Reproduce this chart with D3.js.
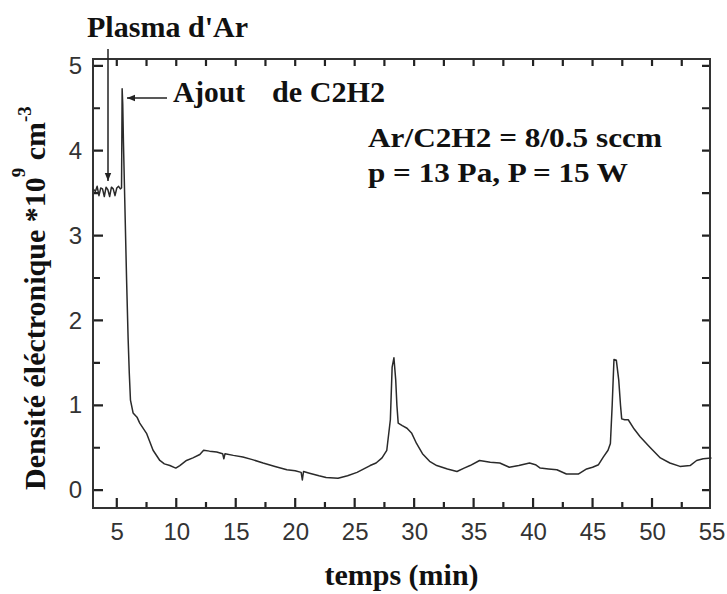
<!DOCTYPE html>
<html>
<head>
<meta charset="utf-8">
<script src="https://cdn.jsdelivr.net/npm/d3@7"></script>
<style>
  body { margin: 0; background: #fff; }
  svg { display: block; }
</style>
</head>
<body>
<div id="chart"></div>
<script>
var width = 727,
    height = 594;

// time in minutes
var time = [3.0, 3.2, 3.35, 3.5, 3.65, 3.8, 3.95, 4.1, 4.25, 4.4, 4.55, 4.7, 4.85, 5.0, 5.15, 5.3,
  5.4, 5.45, 5.5, 5.56, 5.67, 5.82, 5.95, 6.05, 6.15, 6.37, 6.7, 6.93, 7.5, 8.05, 8.62, 9.0, 9.46,
  9.96, 10.3, 10.86, 11.4, 11.98, 12.3, 12.8, 13.4, 13.9, 14.0, 14.1, 14.8, 15.6, 16.4, 17.3, 18.3,
  19.3, 20.0, 20.5, 20.6, 20.7, 21.2, 22.0, 22.6, 23.6, 24.4, 25.2, 26.3, 26.8, 27.3, 27.7, 28.0,
  28.15, 28.3, 28.45, 28.55, 28.66, 29.0, 29.4, 29.8, 30.2, 30.7, 31.3, 31.9, 32.8, 33.6, 34.2,
  34.7, 35.5, 36.4, 37.2, 38.0, 38.8, 39.7, 40.2, 40.6, 41.3, 42.0, 42.8, 43.8, 44.5, 45.0, 45.5,
  45.9, 46.3, 46.5, 46.65, 46.8, 47.0, 47.2, 47.35, 47.45, 47.7, 48.0, 48.5, 49.0, 49.8, 50.7,
  51.5, 52.35, 53.2, 53.75, 54.3, 55];

// electron density, 10^9 cm^-3
var density = [3.55, 3.52, 3.58, 3.47, 3.56, 3.55, 3.46, 3.57, 3.54, 3.46, 3.57, 3.55, 3.47, 3.56,
  3.58, 3.55, 3.56, 4.73, 4.55, 4.1, 3.42, 2.5, 1.8, 1.38, 1.06, 0.91, 0.86, 0.79, 0.67, 0.47, 0.35,
  0.31, 0.29, 0.26, 0.29, 0.35, 0.38, 0.42, 0.47, 0.46, 0.45, 0.43, 0.37, 0.43, 0.41, 0.39, 0.36,
  0.32, 0.28, 0.24, 0.23, 0.21, 0.12, 0.22, 0.2, 0.17, 0.15, 0.14, 0.17, 0.21, 0.29, 0.32, 0.38,
  0.47, 0.83, 1.45, 1.56, 1.3, 1.0, 0.79, 0.76, 0.73, 0.67, 0.55, 0.43, 0.34, 0.29, 0.25, 0.22,
  0.26, 0.29, 0.35, 0.33, 0.32, 0.27, 0.29, 0.32, 0.3, 0.26, 0.25, 0.24, 0.19, 0.19, 0.25, 0.27,
  0.3, 0.39, 0.47, 0.55, 1.0, 1.54, 1.53, 1.3, 1.0, 0.84, 0.83, 0.83, 0.72, 0.63, 0.51, 0.38, 0.32,
  0.28, 0.29, 0.35, 0.37, 0.38];

var xTicks = [5, 10, 15, 20, 25, 30, 35, 40, 45, 50, 55];
var xMinor = [7.5, 12.5, 17.5, 22.5, 27.5, 32.5, 37.5, 42.5, 47.5, 52.5];
var yTicks = [0, 1, 2, 3, 4, 5];
var yMinor = [0.5, 1.5, 2.5, 3.5, 4.5];

var margin = {top: 59, right: 17, bottom: 86, left: 93};
var plotW = width - margin.left - margin.right,
    plotH = height - margin.top - margin.bottom;

var x = d3.scaleLinear().domain([3, 55]).range([0, plotW + 1.5]);
var y = d3.scaleLinear().domain([-0.21, 5.08]).range([plotH, 0]);

var svg = d3.select('#chart').append('svg')
    .attr('width', width)
    .attr('height', height);

var defs = svg.append('defs');
defs.append('marker')
    .attr('id', 'head')
    .attr('viewBox', '0 0 10 10')
    .attr('refX', 10).attr('refY', 5)
    .attr('markerWidth', 10).attr('markerHeight', 8)
    .attr('markerUnits', 'userSpaceOnUse')
    .attr('orient', 'auto')
    .append('path')
    .attr('d', 'M0,1 L10,5 L0,9 Z')
    .attr('fill', '#222');

var g = svg.append('g')
    .attr('transform', 'translate(' + margin.left + ',' + margin.top + ')');

var ink = '#333';

function styleAxis(sel) {
    sel.select('.domain').remove();
    sel.selectAll('line').remove();
    sel.selectAll('text')
        .attr('fill', ink)
        .style('font-family', '"Liberation Sans", Arial, sans-serif')
        .style('font-size', '24px');
}

// tick labels
g.append('g')
    .attr('transform', 'translate(0,' + plotH + ')')
    .call(d3.axisBottom(x).tickValues(xTicks).tickSize(0).tickPadding(15).tickFormat(d3.format('d')))
    .call(styleAxis);
g.append('g')
    .call(d3.axisLeft(y).tickValues(yTicks).tickSize(0).tickPadding(11).tickFormat(d3.format('d')))
    .call(styleAxis);

// inward tick marks on all four sides, one path
var tickPath = d3.path();
function xTickMarks(vals, len) {
    vals.forEach(function (d) {
        tickPath.moveTo(x(d), plotH); tickPath.lineTo(x(d), plotH - len);
        tickPath.moveTo(x(d), 0); tickPath.lineTo(x(d), 7);
    });
}
function yTickMarks(vals, len) {
    vals.forEach(function (d) {
        tickPath.moveTo(0, y(d)); tickPath.lineTo(len, y(d));
        tickPath.moveTo(plotW, y(d)); tickPath.lineTo(plotW - 8, y(d));
    });
}
xTickMarks(xTicks.filter(function (d) { return x(d) < plotW; }), 10);
xTickMarks(xMinor, 6);
yTickMarks(yTicks, 10);
yTickMarks(yMinor, 7);

g.append('path')
    .attr('d', tickPath.toString())
    .attr('fill', 'none')
    .attr('stroke', '#222')
    .attr('stroke-width', 2.2);

// frame
g.append('rect')
    .attr('width', plotW)
    .attr('height', plotH)
    .attr('fill', 'none')
    .attr('stroke', ink)
    .attr('stroke-width', 2);

// curve
var points = time.map(function (t, i) { return [t, density[i]]; });
var line = d3.line()
    .x(function (d) { return x(d[0]); })
    .y(function (d) { return y(d[1]); });

g.append('path')
    .datum(points)
    .attr('d', line)
    .attr('fill', 'none')
    .attr('stroke', '#2a2a2a')
    .attr('stroke-width', 1.5)
    .attr('stroke-linejoin', 'round');

// annotations
var serif = '"Liberation Serif", "Times New Roman", serif';

function label(txt, px, py, size, len) {
    var t = svg.append('text')
        .attr('x', px).attr('y', py)
        .attr('fill', '#111')
        .style('font-family', serif)
        .style('font-weight', 'bold')
        .style('font-size', size + 'px')
        .text(txt);
    if (len) t.attr('textLength', len).attr('lengthAdjust', 'spacingAndGlyphs');
    return t;
}

label("Plasma d'Ar", 87, 37, 30, 161);
label('Ajout', 173, 102, 30, 72);
label('de C2H2', 272, 102, 30, 113);
label('Ar/C2H2 = 8/0.5 sccm', 368, 147, 27, 294);
label('p = 13 Pa, P = 15 W', 368, 182, 27, 260);

// arrows
svg.append('line')
    .attr('x1', 108).attr('y1', 49)
    .attr('x2', 108).attr('y2', 181)
    .attr('stroke', '#222').attr('stroke-width', 1.5)
    .attr('marker-end', 'url(#head)');
svg.append('line')
    .attr('x1', 167).attr('y1', 98)
    .attr('x2', 127).attr('y2', 98)
    .attr('stroke', '#222').attr('stroke-width', 1.5)
    .attr('marker-end', 'url(#head)');

// axis titles
svg.append('text')
    .attr('x', margin.left + plotW / 2)
    .attr('y', 585)
    .attr('text-anchor', 'middle')
    .attr('fill', '#111')
    .style('font-family', serif)
    .style('font-weight', 'bold')
    .style('font-size', '30px')
    .text('temps (min)');

var yl = svg.append('text')
    .attr('transform', 'translate(45,490) rotate(-90)')
    .attr('fill', '#111')
    .style('font-family', serif)
    .style('font-weight', 'bold')
    .style('font-size', '30px');
yl.append('tspan').text('Densité éléctronique *10');
yl.append('tspan').attr('dy', -20).style('font-size', '19px').text('9');
yl.append('tspan').attr('dy', 20).text(' cm');
yl.append('tspan').attr('dy', -14).style('font-size', '19px').text('-3');
</script>
</body>
</html>
